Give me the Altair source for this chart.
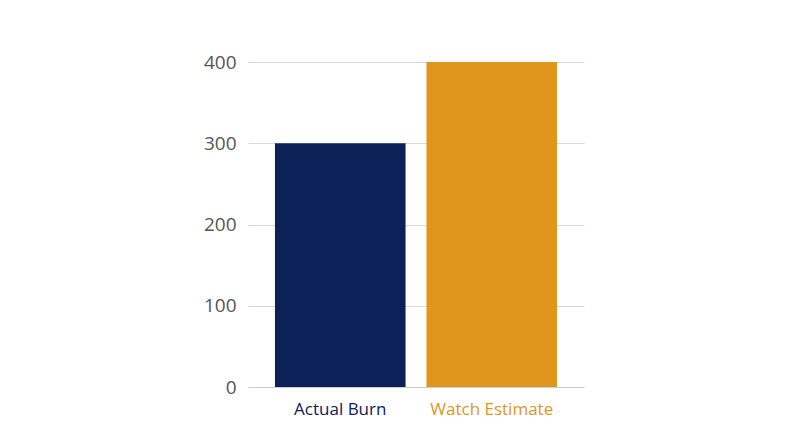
import altair as alt
import pandas as pd

categories = ["Actual Burn", "Watch Estimate"]
values = [300, 400]
colors = ["#0b2157", "#df961d"]

df = pd.DataFrame({"category": categories, "value": values})

chart = alt.Chart(df).mark_bar().encode(
    x=alt.X("category:N", sort=categories, title=None,
            scale=alt.Scale(paddingInner=0.138, paddingOuter=0.178),
            axis=alt.Axis(labelAngle=0, domain=True, domainColor="#cccccc", ticks=False,
                          labelFontSize=17, labelPadding=14, labelFont="Open Sans",
                          labelColor=alt.ExprRef(expr="datum.value == 'Actual Burn' ? '#0b2157' : '#df961d'"))),
    y=alt.Y("value:Q", title=None, scale=alt.Scale(domain=[0, 400]),
            axis=alt.Axis(values=[0, 100, 200, 300, 400], domain=False, ticks=False,
                          labelFontSize=19, labelPadding=12, labelColor="#555555",
                          labelFont="Open Sans", gridColor="#d9d9d9")),
    color=alt.Color("category:N", scale=alt.Scale(domain=categories, range=colors), legend=None),
).properties(
    width=336, height=325,
    autosize=alt.AutoSizeParams(type="none"),
    padding={"left": 240, "top": 54, "right": 200, "bottom": 50},
).configure_view(stroke=None)

chart.save("out.html", embed_options={"renderer": "svg", "actions": False})
